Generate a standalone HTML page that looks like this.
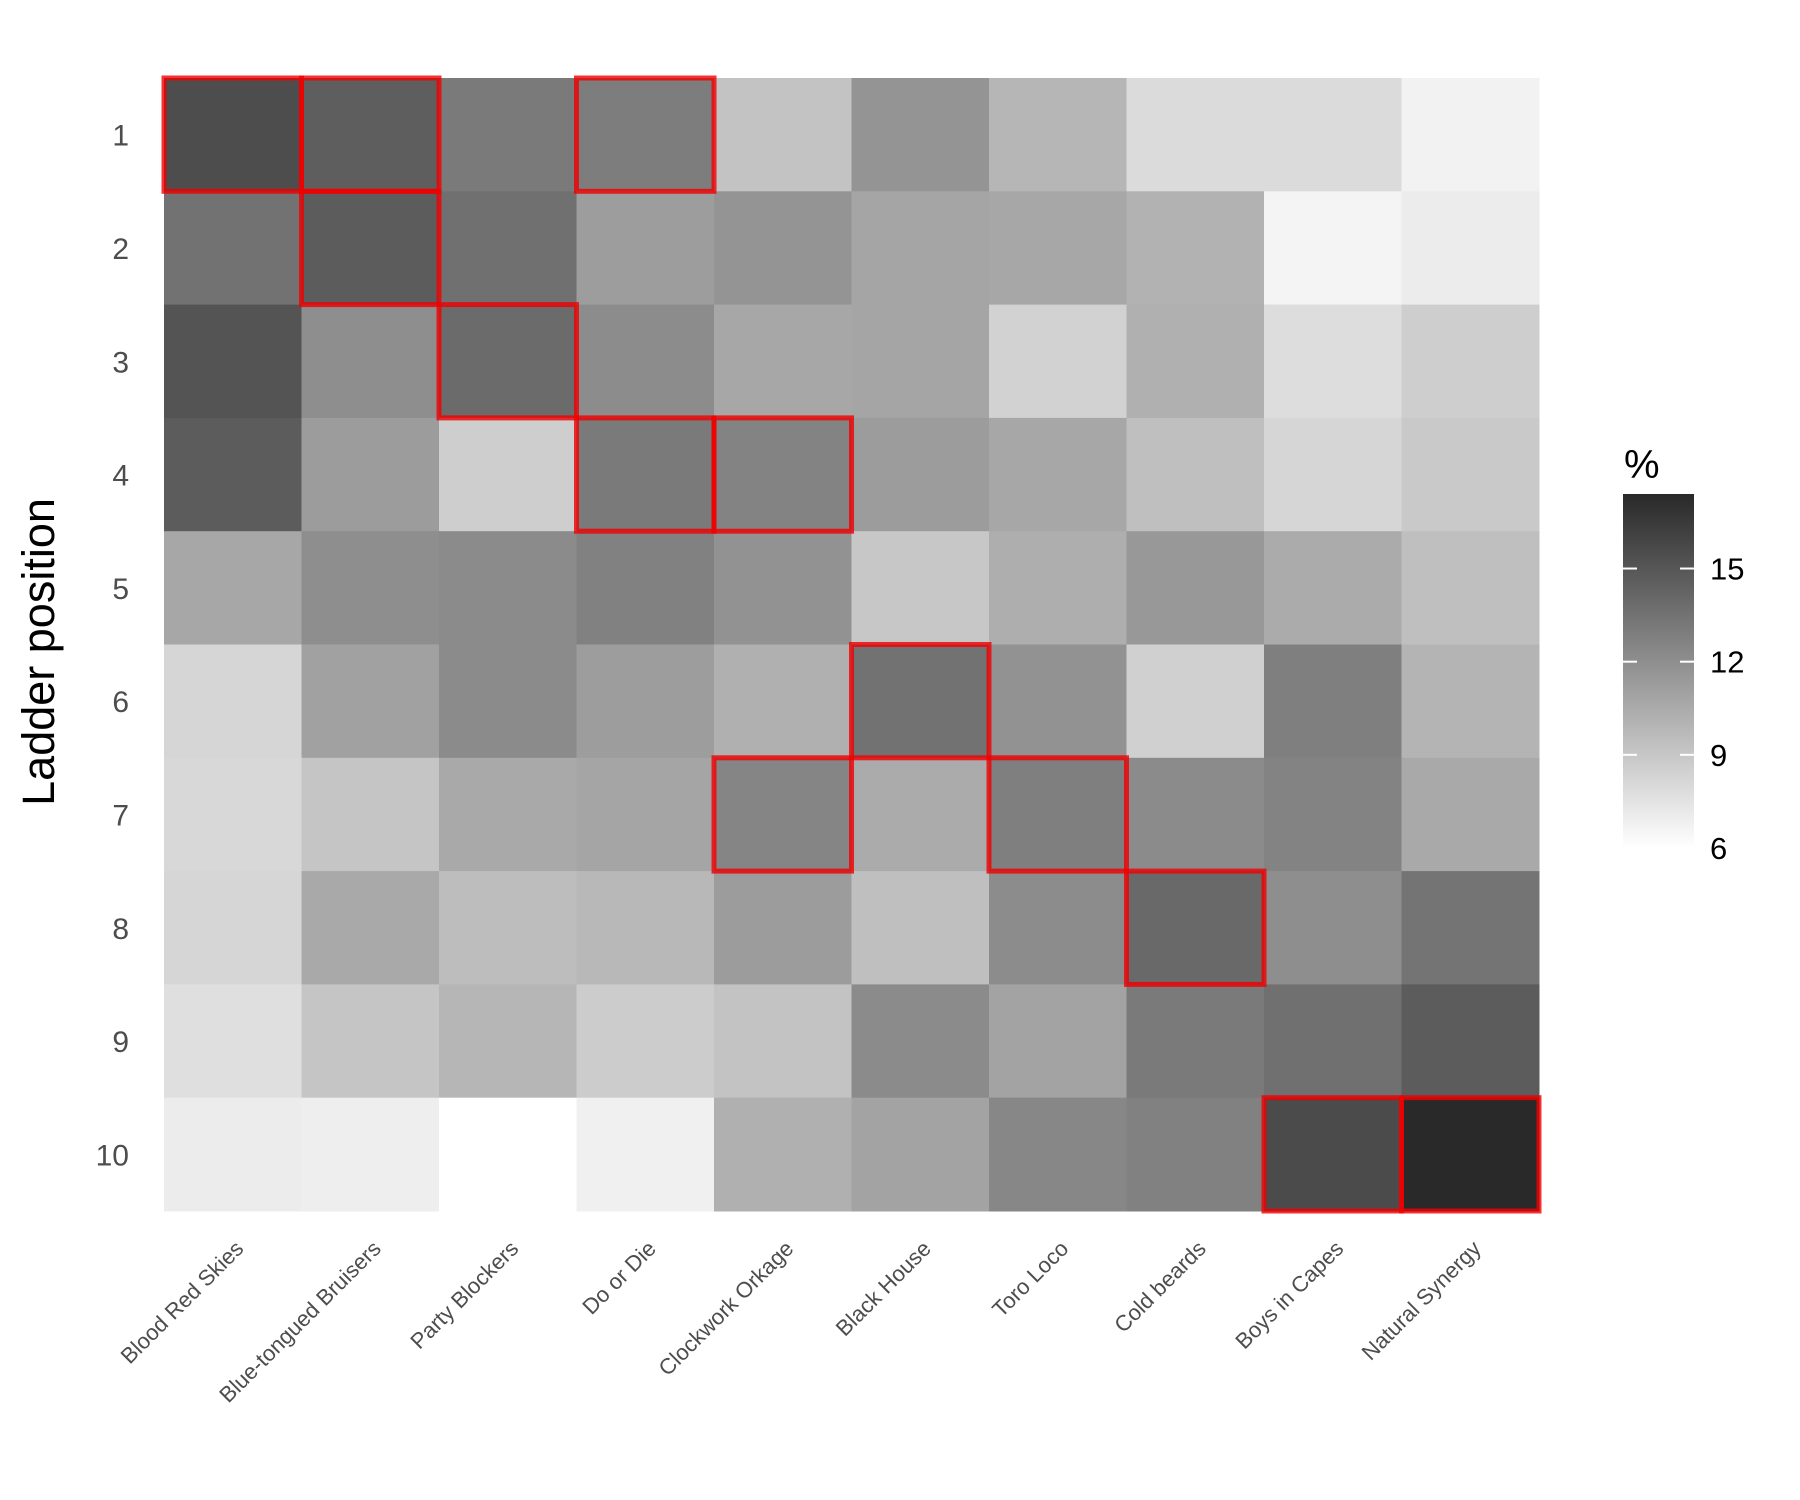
<!DOCTYPE html>
<html><head><meta charset="utf-8"><style>
html,body{margin:0;padding:0;background:#fff;}
svg{display:block;font-family:"Liberation Sans",Arial,sans-serif;}
</style></head><body>
<svg id="chart" width="1800" height="1500" viewBox="0 0 1800 1500">
<defs><linearGradient id="grad" x1="0" y1="1" x2="0" y2="0">
<stop offset="0" stop-color="#ffffff"/><stop offset="1" stop-color="#292929"/></linearGradient></defs>
<g id="cells"></g>
<g id="boxes"></g>
<g id="ylabels"></g>
<g id="xlabels"></g>
<text x="54" y="652" transform="rotate(-90 54 652)" text-anchor="middle" font-size="45" fill="#000">Ladder position</text>
<g id="legend">
<text x="1630" y="478" font-size="40" fill="#000">%</text>
<rect x="1631" y="494" width="71" height="354" fill="url(#grad)"/>
</g>
</svg>
<script>
const teams = ["Blood Red Skies","Blue-tongued Bruisers","Party Blockers","Do or Die","Clockwork Orkage","Black House","Toro Loco","Cold beards","Boys in Capes","Natural Synergy"];
const positions = ["1","2","3","4","5","6","7","8","9","10"];
const row1 = [15.5,14.6,13.1,12.9,9.2,11.7,9.9,7.9,7.9,6.7];
const row2 = [13.5,14.7,13.6,11.2,11.7,10.8,10.7,10.1,6.6,7.0];
const row3 = [15.1,12.0,13.9,12.1,10.7,10.8,8.4,10.2,7.8,8.6];
const row4 = [14.7,11.3,8.6,13.1,12.6,11.3,10.7,9.4,8.2,8.9];
const row5 = [10.7,12.0,12.2,12.7,11.8,9.0,10.3,11.5,10.5,9.4];
const row6 = [8.2,11.0,12.2,11.2,10.2,13.5,11.8,8.5,12.8,10.0];
const row7 = [8.1,9.1,10.6,10.8,12.5,10.5,12.8,12.2,12.6,10.6];
const row8 = [8.2,10.6,9.5,9.8,11.3,9.4,12.1,14.0,12.0,13.4];
const row9 = [7.7,9.1,9.9,8.7,9.2,12.2,10.9,13.1,13.6,14.7];
const row10 = [7.0,6.9,6.0,6.8,10.2,10.9,12.4,12.7,15.6,17.4];
const highlightRows = [1,1,1,2,3,4,4,6,7,7,8,10,10];
const highlightCols = [1,2,4,2,3,4,5,6,5,7,8,9,10];
const legendTicks = [6,9,12,15];
const rows=[row1,row2,row3,row4,row5,row6,row7,row8,row9,row10];
const NS="http://www.w3.org/2000/svg";
const X0=164,X1=1539,Y0=78,Y1=1211;
const cw=(X1-X0)/teams.length, ch=(Y1-Y0)/positions.length;
const xs=i=>X0+i*cw, ys=j=>Y0+j*ch;
const vmin=6,vmax=17.4;
function fill(v){const t=Math.max(0,Math.min(1,(v-vmin)/(vmax-vmin)));const g=Math.round(255-t*(255-41));return `rgb(${g},${g},${g})`;}
function mk(tag,attrs,parent){const e=document.createElementNS(NS,tag);for(const k in attrs)e.setAttribute(k,attrs[k]);parent.appendChild(e);return e;}
const cells=document.getElementById('cells');
rows.forEach((r,j)=>r.forEach((v,i)=>{
 const e=mk('rect',{x:xs(i),y:ys(j),width:cw+0.5,height:ch+0.5,fill:fill(v)},cells);
 
 
}));
const boxes=document.getElementById('boxes');
highlightRows.forEach((r,k)=>{
 const c=highlightCols[k];
 const e=mk('rect',{x:xs(c-1),y:ys(r-1),width:cw,height:ch,fill:'none',stroke:'rgba(240,0,0,0.8)','stroke-width':5},boxes);
 
 
});
const yl=document.getElementById('ylabels');
positions.forEach((p,j)=>{
 const e=mk('text',{x:129,y:ys(j)+ch/2+11,'text-anchor':'end','font-size':30,fill:'#4d4d4d'},yl);
 e.textContent=p;
 
 
});
const xl=document.getElementById('xlabels');
teams.forEach((t,i)=>{
 const x=xs(i)+cw/2+12,y=1250;
 const e=mk('text',{x:x,y:y,'text-anchor':'end','font-size':22,fill:'#4d4d4d',transform:`rotate(-45 ${x} ${y})`},xl);
 e.textContent=t;
 
 
});
const lg=document.getElementById('legend');
const lx=1631-8;
lg.querySelector('rect').setAttribute('x',lx);
lg.querySelector('text').setAttribute('x',lx+1);
const LB=848,LT=494;
const ly=v=>LB-(v-vmin)/(vmax-vmin)*(LB-LT);
legendTicks.forEach(v=>{
 const y=ly(v);
 const a=mk('line',{x1:lx,x2:lx+14,y1:y,y2:y,stroke:'#fff','stroke-width':2},lg);
 
 
 const b=mk('line',{x1:lx+57,x2:lx+71,y1:y,y2:y,stroke:'#fff','stroke-width':2},lg);
 
 
 const t=mk('text',{x:lx+87,y:y+11,'font-size':31,fill:'#000'},lg);
 t.textContent=v;
 
 
});
</script>
</body></html>
